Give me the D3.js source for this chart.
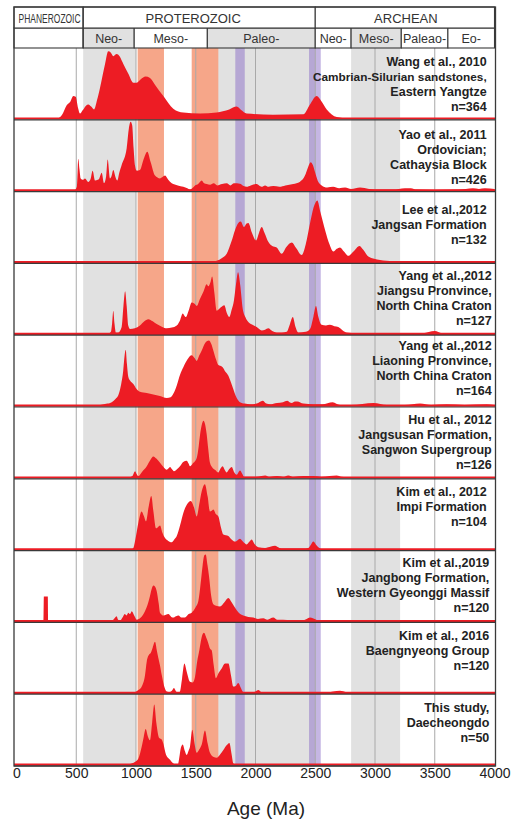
<!DOCTYPE html>
<html><head><meta charset="utf-8">
<script src="https://cdn.jsdelivr.net/npm/d3@7"></script>
<style>body{margin:0;background:#fff} svg{display:block} text{font-family:"Liberation Sans",Arial,sans-serif}</style>
</head><body>
<svg id="c" width="521" height="821"></svg>
<script>
// ---------- DATA ----------
const ageTicks = [0,500,1000,1500,2000,2500,3000,3500,4000];
const gridAges = [500,1000,1500,2000,2500,3000,3500];
const eons = [
  {name:"PHANEROZOIC", start:null, end:558},
  {name:"PROTEROZOIC", start:558, end:2500},
  {name:"ARCHEAN", start:2500, end:4000}
];
const eras = [
  {name:"", start:null, end:558, shade:false},
  {name:"Neo-", start:558, end:985, shade:true},
  {name:"Meso-", start:985, end:1597, shade:false},
  {name:"Paleo-", start:1597, end:2500, shade:true},
  {name:"Neo-", start:2500, end:2800, shade:false},
  {name:"Meso-", start:2800, end:3220, shade:true},
  {name:"Paleao-", start:3220, end:3610, shade:false},
  {name:"Eo-", start:3610, end:4000, shade:false}
];
const grayBands = [[558,1000],[1600,2500],[2800,3210]];
const salmonBands = [[1014,1234],[1466,1689]];
const purpleBands = [[1831,1910],[2448,2546]];

const wang2010 = [[0,0],[340,0],[380,0.05],[420,0.19],[450,0.24],[475,0.32],[495,0.31],[515,0.15],[531,0.07],[555,0.12],[580,0.18],[601,0.2],[625,0.17],[649,0.13],[675,0.27],[699,0.44],[741,0.78],[768,0.96],[790,0.94],[810,0.89],[838,0.92],[852,0.91],[894,0.78],[936,0.64],[978,0.51],[1006,0.51],[1040,0.56],[1080,0.6],[1117,0.58],[1160,0.48],[1229,0.32],[1312,0.14],[1396,0.085],[1536,0.07],[1675,0.086],[1780,0.13],[1843,0.17],[1880,0.12],[1926,0.07],[2146,0.055],[2400,0.06],[2456,0.2],[2512,0.32],[2550,0.25],[2596,0.13],[2680,0.02],[2774,0],[4000,0]];
const yao2011 = [[0,0],[485,0],[505,0.05],[517,0.45],[527,0.3],[537,0.17],[555,0.15],[573,0.17],[601,0.12],[620,0.16],[637,0.28],[657,0.14],[680,0.15],[693,0.17],[713,0.25],[732,0.1],[750,0.2],[763,0.44],[782,0.17],[795,0.2],[810,0.29],[830,0.18],[844,0.14],[860,0.25],[880,0.36],[922,0.6],[940,0.88],[955,0.98],[968,0.93],[980,0.6],[992,0.35],[1006,0.28],[1033,0.29],[1061,0.43],[1095,0.55],[1123,0.4],[1159,0.21],[1201,0.17],[1243,0.21],[1270,0.15],[1299,0.1],[1350,0.07],[1396,0.05],[1430,0.03],[1452,0.01],[1470,0.03],[1494,0.07],[1520,0.09],[1550,0.14],[1570,0.1],[1592,0.09],[1620,0.08],[1650,0.1],[1680,0.07],[1720,0.09],[1759,0.1],[1790,0.07],[1820,0.1],[1870,0.095],[1900,0.06],[1926,0.05],[1960,0.07],[2010,0.09],[2050,0.05],[2080,0.07],[2110,0.05],[2149,0.06],[2200,0.05],[2250,0.07],[2316,0.09],[2370,0.12],[2414,0.21],[2440,0.33],[2462,0.4],[2480,0.36],[2498,0.26],[2520,0.14],[2554,0.07],[2600,0.04],[2650,0.05],[2700,0.03],[2750,0.04],[2800,0.02],[2875,0.04],[2950,0.02],[3050,0.01],[3150,0.01],[3250,0.03],[3300,0.03],[3350,0.01],[3500,0.005],[3700,0.01],[3820,0.03],[3870,0.02],[3920,0.03],[4000,0.02]];
const lee2012 = [[0,0],[1600,0],[1675,0.02],[1720,0.06],[1759,0.12],[1800,0.3],[1829,0.46],[1856,0.56],[1876,0.58],[1904,0.5],[1925,0.55],[1940,0.56],[1970,0.42],[2004,0.31],[2030,0.42],[2052,0.5],[2075,0.42],[2107,0.29],[2140,0.23],[2177,0.21],[2219,0.12],[2260,0.22],[2303,0.28],[2340,0.2],[2387,0.1],[2420,0.25],[2456,0.55],[2490,0.8],[2517,0.88],[2545,0.7],[2582,0.46],[2620,0.25],[2651,0.15],[2680,0.19],[2707,0.21],[2740,0.15],[2777,0.09],[2820,0.15],[2869,0.23],[2900,0.18],[2944,0.08],[3042,0.03],[3150,0.01],[3210,0],[4000,0]];
const yangJiangsu = [[0,0],[760,0],[790,0.03],[800,0.15],[810,0.33],[820,0.15],[832,0.02],[850,0.02],[880,0.1],[895,0.4],[909,0.61],[922,0.4],[935,0.12],[950,0.07],[990,0.08],[1033,0.12],[1070,0.18],[1103,0.21],[1140,0.18],[1173,0.14],[1220,0.1],[1257,0.08],[1300,0.09],[1341,0.12],[1370,0.2],[1391,0.29],[1405,0.26],[1418,0.24],[1440,0.33],[1466,0.45],[1490,0.43],[1508,0.4],[1535,0.5],[1563,0.6],[1592,0.71],[1605,0.68],[1625,0.75],[1637,0.82],[1655,0.6],[1675,0.33],[1710,0.38],[1739,0.41],[1760,0.3],[1781,0.24],[1800,0.34],[1820,0.48],[1840,0.75],[1854,0.88],[1872,0.7],[1893,0.36],[1915,0.24],[1940,0.17],[1975,0.13],[2010,0.1],[2052,0.05],[2080,0.06],[2107,0.08],[2140,0.04],[2177,0.02],[2220,0.02],[2261,0.03],[2290,0.15],[2312,0.24],[2335,0.1],[2358,0.02],[2420,0.03],[2456,0.07],[2485,0.25],[2506,0.4],[2525,0.25],[2554,0.13],[2590,0.12],[2623,0.13],[2660,0.11],[2693,0.1],[2730,0.05],[2763,0.02],[2850,0.01],[3000,0.005],[3400,0.01],[3500,0.04],[3560,0.01],[3700,0],[4000,0]];
const yangLiaoning = [[0,0],[600,0],[700,0.01],[760,0.03],[797,0.05],[830,0.1],[852,0.15],[875,0.3],[893,0.5],[905,0.72],[914,0.8],[924,0.6],[936,0.41],[950,0.36],[965,0.33],[978,0.31],[1000,0.25],[1033,0.2],[1090,0.18],[1145,0.16],[1200,0.14],[1257,0.11],[1290,0.12],[1312,0.17],[1341,0.29],[1370,0.45],[1396,0.55],[1430,0.66],[1466,0.72],[1490,0.68],[1508,0.64],[1530,0.72],[1550,0.79],[1580,0.9],[1610,0.93],[1630,0.88],[1647,0.79],[1670,0.66],[1689,0.58],[1705,0.57],[1725,0.55],[1750,0.48],[1772,0.43],[1795,0.33],[1814,0.24],[1840,0.12],[1870,0.05],[1910,0.03],[1954,0.02],[2010,0.03],[2060,0.07],[2090,0.03],[2121,0.02],[2180,0.04],[2230,0.05],[2266,0.07],[2285,0.05],[2303,0.04],[2330,0.06],[2350,0.06],[2400,0.03],[2484,0.02],[2560,0.02],[2646,0.05],[2707,0.01],[2800,0.01],[2988,0.04],[3100,0.01],[3250,0.01],[3377,0.03],[3470,0.01],[3600,0.02],[3750,0.01],[3935,0.02],[4000,0.01]];
const hu2012 = [[0,0],[940,0],[970,0.02],[992,0.09],[1005,0.05],[1020,0.02],[1050,0.08],[1090,0.16],[1120,0.25],[1145,0.3],[1170,0.27],[1201,0.21],[1230,0.15],[1257,0.11],[1285,0.15],[1300,0.12],[1318,0.09],[1345,0.12],[1368,0.16],[1395,0.22],[1424,0.24],[1440,0.2],[1452,0.16],[1475,0.2],[1508,0.28],[1525,0.45],[1536,0.61],[1550,0.75],[1565,0.81],[1578,0.76],[1592,0.61],[1605,0.4],[1619,0.21],[1640,0.14],[1661,0.11],[1689,0.07],[1705,0.12],[1725,0.16],[1742,0.11],[1759,0.07],[1780,0.12],[1801,0.15],[1820,0.08],[1843,0.04],[1870,0.1],[1890,0.05],[1904,0.01],[1950,0.01],[2000,0.01],[2050,0.02],[2081,0.03],[2120,0.01],[2180,0.02],[2230,0.01],[2274,0.03],[2320,0.01],[2400,0.02],[2484,0.02],[2550,0.01],[2620,0.02],[2680,0.03],[2720,0.01],[2800,0],[4000,0]];
const kim2012 = [[0,0],[960,0],[978,0.02],[990,0.1],[1000,0.19],[1020,0.38],[1047,0.54],[1065,0.48],[1084,0.4],[1105,0.6],[1128,0.76],[1145,0.55],[1167,0.3],[1185,0.32],[1201,0.34],[1220,0.24],[1243,0.16],[1270,0.12],[1299,0.1],[1320,0.14],[1341,0.19],[1370,0.35],[1396,0.52],[1430,0.65],[1458,0.69],[1485,0.6],[1508,0.47],[1530,0.65],[1550,0.83],[1576,0.93],[1600,0.75],[1619,0.54],[1633,0.55],[1647,0.57],[1670,0.5],[1689,0.47],[1710,0.32],[1731,0.21],[1773,0.19],[1800,0.14],[1829,0.11],[1850,0.13],[1870,0.15],[1900,0.1],[1926,0.07],[1950,0.11],[1968,0.14],[1990,0.08],[2024,0.03],[2080,0.02],[2130,0.04],[2163,0.05],[2200,0.02],[2233,0.01],[2400,0.01],[2442,0.02],[2465,0.07],[2484,0.11],[2505,0.07],[2526,0.03],[2560,0],[4000,0]];
const kim2019 = [[0,0],[225,0],[229,0.35],[262,0.35],[266,0],[780,0],[810,0.02],[838,0.07],[850,0.02],[866,0.01],[890,0.06],[907,0.1],[920,0.08],[936,0.12],[950,0.1],[964,0.14],[985,0.08],[1006,0.02],[1040,0.05],[1075,0.14],[1100,0.25],[1117,0.36],[1135,0.48],[1145,0.51],[1160,0.49],[1173,0.43],[1190,0.25],[1201,0.12],[1230,0.08],[1271,0.1],[1295,0.06],[1313,0.05],[1335,0.07],[1355,0.08],[1380,0.05],[1410,0.05],[1440,0.1],[1466,0.12],[1500,0.2],[1522,0.29],[1545,0.6],[1558,0.8],[1572,0.94],[1583,0.95],[1598,0.8],[1611,0.64],[1630,0.35],[1647,0.24],[1670,0.22],[1703,0.21],[1740,0.27],[1773,0.33],[1800,0.27],[1829,0.19],[1860,0.12],[1898,0.08],[1940,0.06],[1982,0.05],[2020,0.03],[2065,0.04],[2100,0.02],[2149,0.05],[2180,0.02],[2230,0.02],[2300,0.01],[2400,0.01],[2456,0.05],[2480,0.04],[2520,0.01],[2560,0],[4000,0]];
const kim2016 = [[0,0],[960,0],[990,0.01],[1020,0.04],[1050,0.1],[1075,0.25],[1090,0.45],[1110,0.55],[1123,0.57],[1140,0.65],[1159,0.73],[1175,0.6],[1187,0.5],[1200,0.4],[1215,0.26],[1235,0.1],[1257,0.02],[1280,0.01],[1300,0.03],[1318,0.07],[1335,0.02],[1355,0.0],[1368,0.02],[1385,0.2],[1405,0.42],[1425,0.3],[1452,0.16],[1475,0.15],[1494,0.23],[1512,0.45],[1530,0.61],[1550,0.8],[1569,0.86],[1590,0.78],[1605,0.71],[1620,0.63],[1633,0.61],[1650,0.4],[1669,0.21],[1690,0.28],[1717,0.35],[1745,0.42],[1773,0.42],[1795,0.25],[1814,0.09],[1835,0.1],[1856,0.14],[1875,0.08],[1898,0.01],[1960,0.0],[2000,0.02],[2024,0.04],[2050,0.01],[2100,0],[2600,0],[2650,0.02],[2707,0.03],[2760,0.01],[2800,0],[4000,0]];
const thisStudy = [[0,0],[900,0],[950,0.01],[990,0.04],[1020,0.09],[1048,0.26],[1065,0.4],[1081,0.51],[1100,0.4],[1117,0.35],[1135,0.6],[1153,0.86],[1170,0.6],[1195,0.38],[1215,0.36],[1229,0.3],[1250,0.15],[1285,0.07],[1310,0.02],[1335,0.0],[1350,0.0],[1362,0.1],[1375,0.24],[1391,0.29],[1408,0.2],[1424,0.14],[1440,0.2],[1452,0.26],[1471,0.5],[1490,0.3],[1508,0.17],[1530,0.22],[1550,0.29],[1577,0.49],[1600,0.3],[1619,0.17],[1650,0.11],[1675,0.1],[1705,0.15],[1731,0.21],[1760,0.28],[1781,0.31],[1800,0.15],[1814,0.02],[1830,0],[4000,0]];

const panelLabels = [
  ["Wang et al., 2010","Cambrian-Silurian sandstones,","Eastern Yangtze","n=364"],
  ["Yao et al., 2011","Ordovician;","Cathaysia Block","n=426"],
  ["Lee et al.,2012","Jangsan Formation","n=132"],
  ["Yang et al.,2012","Jiangsu Pronvince,","North China Craton","n=127"],
  ["Yang et al.,2012","Liaoning Pronvince,","North China Craton","n=164"],
  ["Hu et al., 2012","Jangsusan Formation,","Sangwon Supergroup","n=126"],
  ["Kim et al., 2012","Impi Formation","n=104"],
  ["Kim et al.,2019","Jangbong Formation,","Western Gyeonggi Massif","n=120"],
  ["Kim et al., 2016","Baengnyeong Group","n=120"],
  ["This study,","Daecheongdo","n=50"]
];
const series = [wang2010,yao2011,lee2012,yangJiangsu,yangLiaoning,hu2012,kim2012,kim2019,kim2016,thisStudy];

// ---------- LAYOUT ----------
const svg = d3.select("#c");
const frameL = 14, frameR = 495.5;
const headTop = 7, headMid = 28, panelsTop = 48, panelH = 71.8;
const panelsBot = panelsTop + panelH * series.length;
const x = d3.scaleLinear().domain([0,4000]).range([16.5,494.5]);
const labelX = [486.7,486.7,486.7,491.7,491.7,491.7,486.7,489.3,489.3,489.3];
const labelY0 = [18.2,19.5,22.7,16.5,14.5,16.8,17.2,16.2,17.5,17.8];
const RED = "#ed1c24", DARK = "#3a3a3a";

// background bands
const bg = svg.append("g");
bg.selectAll(".gb").data(grayBands).join("rect")
  .attr("x", d=>x(d[0])).attr("width", d=>x(d[1])-x(d[0]))
  .attr("y", panelsTop).attr("height", panelsBot-panelsTop).attr("fill","#e1e1e1");
bg.selectAll(".sb").data(salmonBands).join("rect")
  .attr("x", d=>x(d[0])).attr("width", d=>x(d[1])-x(d[0]))
  .attr("y", panelsTop).attr("height", panelsBot-panelsTop).attr("fill","#f6a689");
bg.selectAll(".pb").data(purpleBands).join("rect")
  .attr("x", d=>x(d[0])).attr("width", d=>x(d[1])-x(d[0]))
  .attr("y", panelsTop).attr("height", panelsBot-panelsTop).attr("fill","rgba(140,110,200,0.5)");
bg.selectAll(".gl").data(gridAges).join("line")
  .attr("x1", d=>x(d)).attr("x2", d=>x(d))
  .attr("y1", panelsTop).attr("y2", panelsBot)
  .attr("stroke","#a9a9a9").attr("stroke-width",1);

// panels
series.forEach((data,i)=>{
  const top = panelsTop + i*panelH, bot = top + panelH;
  const base = bot - 1.3;
  const y = d3.scaleLinear().domain([0,1]).range([base, base-70]);
  const area = d3.area().x(d=>x(d[0])).y0(base).y1(d=>y(d[1])).curve(d3.curveMonotoneX);
  svg.append("path").datum(data).attr("d", area).attr("fill", RED);
  svg.append("line").attr("x1",frameL).attr("x2",frameR).attr("y1",base).attr("y2",base)
    .attr("stroke",RED).attr("stroke-width",2.2);
  svg.append("line").attr("x1",frameL).attr("x2",frameR).attr("y1",bot).attr("y2",bot)
    .attr("stroke",DARK).attr("stroke-width",1.2);
  const g = svg.append("g");
  panelLabels[i].forEach((t,j)=>{
    g.append("text").attr("x", labelX[i]).attr("y", top + labelY0[i] + j*15)
      .attr("text-anchor","end").attr("font-weight","bold")
      .attr("font-size", t.length>26 ? "11.8px" : "12.5px").attr("fill","#222").text(t);
  });
});

// header
const hd = svg.append("g");
hd.append("rect").attr("x",frameL).attr("y",headTop).attr("width",frameR-frameL).attr("height",panelsTop-headTop).attr("fill","#fff");
eras.forEach(e=>{
  const x0 = e.start==null ? frameL : x(e.start), x1 = x(e.end);
  hd.append("rect").attr("x",x0).attr("y",headMid).attr("width",x1-x0).attr("height",panelsTop-headMid)
    .attr("fill", e.shade ? "#e1e1e1" : "#fff").attr("stroke",DARK).attr("stroke-width",1.1);
  if (e.name) hd.append("text").attr("x",(x0+x1)/2).attr("y",43).attr("text-anchor","middle")
    .attr("font-size","12.5px").attr("fill","#333").text(e.name);
});
eons.forEach(e=>{
  const x0 = e.start==null ? frameL : x(e.start), x1 = x(e.end);
  hd.append("rect").attr("x",x0).attr("y",headTop).attr("width",x1-x0).attr("height",headMid-headTop)
    .attr("fill","#fff").attr("stroke",DARK).attr("stroke-width",1.1);
  const t = hd.append("text").attr("x",(x0+x1)/2 + (e.name==="PROTEROZOIC"?-6:1)).attr("y",22.8).attr("text-anchor","middle")
    .attr("fill","#333").text(e.name);
  if (e.name==="PHANEROZOIC") t.attr("font-size","12.5px").attr("textLength",62).attr("lengthAdjust","spacingAndGlyphs");
  else t.attr("font-size","13px");
});
hd.append("line").attr("x1",x(558)).attr("x2",x(558)).attr("y1",headTop).attr("y2",panelsTop).attr("stroke",DARK).attr("stroke-width",1.1);

// outer frame
svg.append("rect").attr("x",frameL).attr("y",headTop).attr("width",frameR-frameL).attr("height",panelsBot-headTop)
  .attr("fill","none").attr("stroke",DARK).attr("stroke-width",1.3);

// axis
const ax = svg.append("g").attr("transform",`translate(0,${panelsBot})`)
  .call(d3.axisBottom(x).tickValues(ageTicks).tickFormat(d3.format("d")).tickSize(0).tickPadding(2));
ax.select(".domain").remove();
ax.selectAll("text").attr("font-size","14px").attr("fill","#222").attr("font-family","Liberation Sans, Arial, sans-serif");

svg.append("text").attr("x",266).attr("y",815).attr("text-anchor","middle")
  .attr("font-size","19px").attr("fill","#222").text("Age (Ma)");
</script>
</body></html>
